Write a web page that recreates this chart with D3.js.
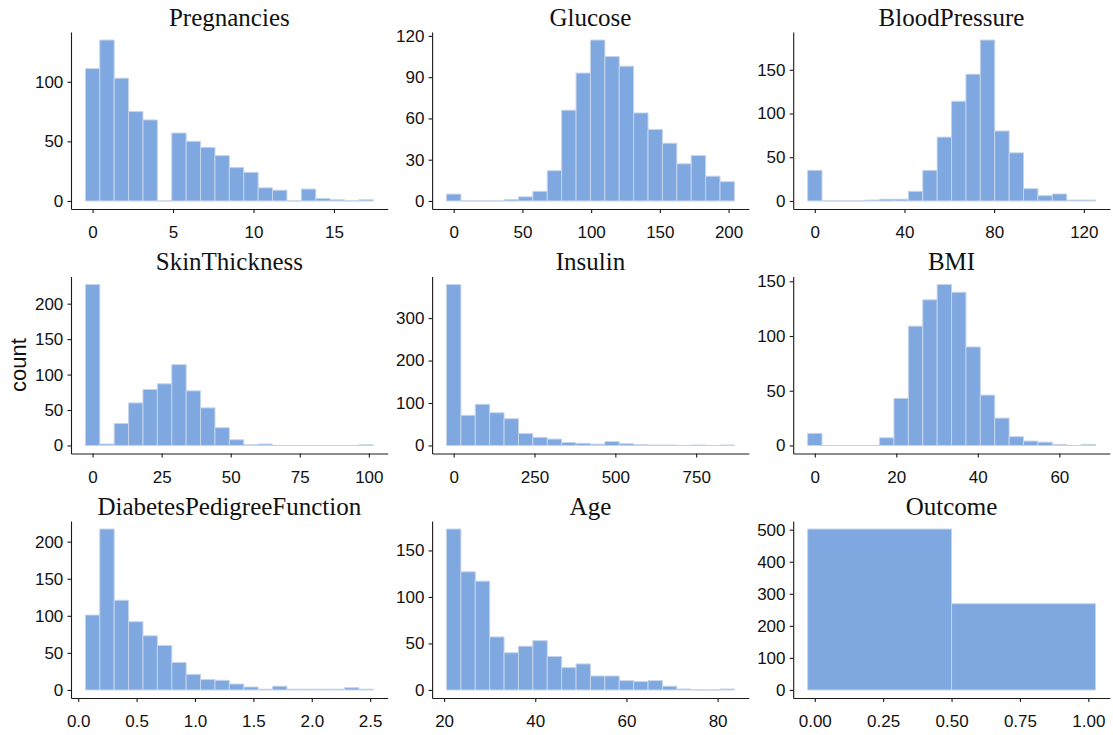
<!DOCTYPE html>
<html lang="en">
<head>
<meta charset="utf-8">
<title>Diabetes: feature histograms</title>
<script src="https://cdn.jsdelivr.net/npm/d3@7"></script>
<style>
  body { margin: 0; background: #fff; }
  .tick text { font-family: "Liberation Sans", Arial, sans-serif; font-size: 17px; fill: #111; }
  .panel-title { font-family: "Liberation Serif", "Times New Roman", serif; font-size: 25px; fill: #111; }
</style>
</head>
<body>
<script>
// ---- data ----
var panelNames = ["Pregnancies", "Glucose", "BloodPressure", "SkinThickness", "Insulin",
                  "BMI", "DiabetesPedigreeFunction", "Age", "Outcome"];

// left edge of first bin and bin width for each panel
var binStart = [-0.4474, -5.237, -3.211, -2.605, -22.26, -1.766, 0.0616, 20.526, -0.0263];
var binWidth = [0.8947, 10.474, 6.421, 5.211, 44.526, 3.532, 0.12326, 3.158, 0.5263];

var pregnanciesCounts = [111, 135, 103, 75, 68, 0, 57, 50, 45, 38, 28, 24, 11, 9, 0, 10, 2, 1, 0, 1];
var glucoseCounts = [5, 0, 0, 0, 1, 3, 7, 22, 66, 93, 117, 105, 98, 64, 52, 42, 27, 33, 18, 14];
var bloodPressureCounts = [35, 0, 0, 0, 1, 2, 2, 11, 35, 73, 114, 145, 184, 80, 55, 14, 6, 8, 1, 1];
var skinThicknessCounts = [227, 2, 31, 60, 79, 87, 114, 77, 53, 25, 8, 1, 2, 0, 0, 0, 0, 0, 0, 1];
var insulinCounts = [379, 71, 97, 77, 63, 28, 19, 15, 7, 5, 3, 9, 4, 2, 1, 1, 0, 1, 0, 1];
var bmiCounts = [11, 0, 0, 0, 0, 7, 43, 109, 133, 147, 140, 90, 46, 25, 8, 4, 3, 1, 0, 1];
var pedigreeCounts = [101, 217, 121, 92, 73, 60, 37, 21, 14, 13, 8, 4, 1, 5, 1, 1, 1, 1, 3, 1];
var ageCounts = [173, 127, 117, 57, 40, 47, 53, 36, 24, 28, 15, 15, 10, 9, 10, 4, 1, 0, 0, 1];
var outcomeCounts = [502, 269];

var allCounts = [pregnanciesCounts, glucoseCounts, bloodPressureCounts, skinThicknessCounts,
                 insulinCounts, bmiCounts, pedigreeCounts, ageCounts, outcomeCounts];

var xTickValues = [
  [0, 5, 10, 15], [0, 50, 100, 150, 200], [0, 40, 80, 120],
  [0, 25, 50, 75, 100], [0, 250, 500, 750], [0, 20, 40, 60],
  [0, 0.5, 1, 1.5, 2, 2.5], [20, 40, 60, 80], [0, 0.25, 0.5, 0.75, 1]
];
var yTickValues = [
  [0, 50, 100], [0, 30, 60, 90, 120], [0, 50, 100, 150],
  [0, 50, 100, 150, 200], [0, 100, 200, 300], [0, 50, 100, 150],
  [0, 50, 100, 150, 200], [0, 50, 100, 150], [0, 100, 200, 300, 400, 500]
];
var xTickFormats = ["d", "d", "d", "d", "d", "d", ".1f", "d", ".2f"];

// ---- layout ----
var width = 1113, height = 735;
var panelW = 316.7, panelH = 177;
var left0 = 71, colStep = 361.1;
var top0 = 32, rowStep = 244.5;
var fillColor = "#7fa7e0", edgeColor = "#c5d4ea";

var svg = d3.select("body")
  .append("svg")
    .attr("width", width)
    .attr("height", height);

panelNames.forEach(function (name, i) {
  var col = i % 3, row = Math.floor(i / 3);
  var counts = allCounts[i];
  var edges = d3.range(counts.length + 1).map(function (k) { return binStart[i] + k * binWidth[i]; });
  var lo = edges[0], hi = edges[edges.length - 1], span = hi - lo;
  var maxCount = d3.max(counts);

  var x = d3.scaleLinear()
    .domain([lo - 0.05 * span, hi + 0.05 * span])
    .range([0, panelW]);
  var y = d3.scaleLinear()
    .domain([-0.05 * maxCount, 1.05 * maxCount])
    .range([panelH, 0]);

  var g = svg.append("g")
    .attr("transform", "translate(" + (left0 + col * colStep) + "," + (top0 + row * rowStep) + ")");

  // bars (paths so empty bins still show their outline on the baseline)
  g.selectAll("path.bar")
    .data(counts)
    .enter()
    .append("path")
      .attr("class", "bar")
      .attr("d", function (d, k) {
        var x0 = x(edges[k]), x1 = x(edges[k + 1]), y0 = y(0), y1 = y(d);
        return "M" + x0 + "," + y0 + "H" + x1 + "V" + y1 + "H" + x0 + "Z";
      })
      .attr("fill", fillColor)
      .attr("stroke", edgeColor)
      .attr("stroke-width", 1);

  // axes
  var yAxis = g.append("g")
    .call(d3.axisLeft(y).tickValues(yTickValues[i]).tickSize(3.5).tickSizeOuter(0).tickPadding(4.2));
  var xAxis = g.append("g")
    .attr("transform", "translate(0," + panelH + ")")
    .call(d3.axisBottom(x).tickValues(xTickValues[i]).tickFormat(d3.format(xTickFormats[i]))
      .tickSize(4).tickSizeOuter(0).tickPadding(13.2));
  [yAxis, xAxis].forEach(function (a) {
    a.select(".domain").attr("stroke", "#1a1a1a").attr("stroke-width", 1.1);
    a.selectAll(".tick line").attr("stroke", "#1a1a1a").attr("stroke-width", 1.1);
  });

  // panel title
  g.append("text")
    .attr("class", "panel-title")
    .attr("x", panelW / 2)
    .attr("y", -6.5)
    .attr("text-anchor", "middle")
    .text(name);
});

// shared y-axis label
svg.append("text")
  .attr("transform", "translate(25.5," + (top0 + (2 * rowStep + panelH) / 2) + ") rotate(-90)")
  .attr("text-anchor", "middle")
  .style("font-family", "Liberation Sans, Arial, sans-serif")
  .style("font-size", "22px")
  .style("fill", "#111")
  .text("count");
</script>
</body>
</html>
